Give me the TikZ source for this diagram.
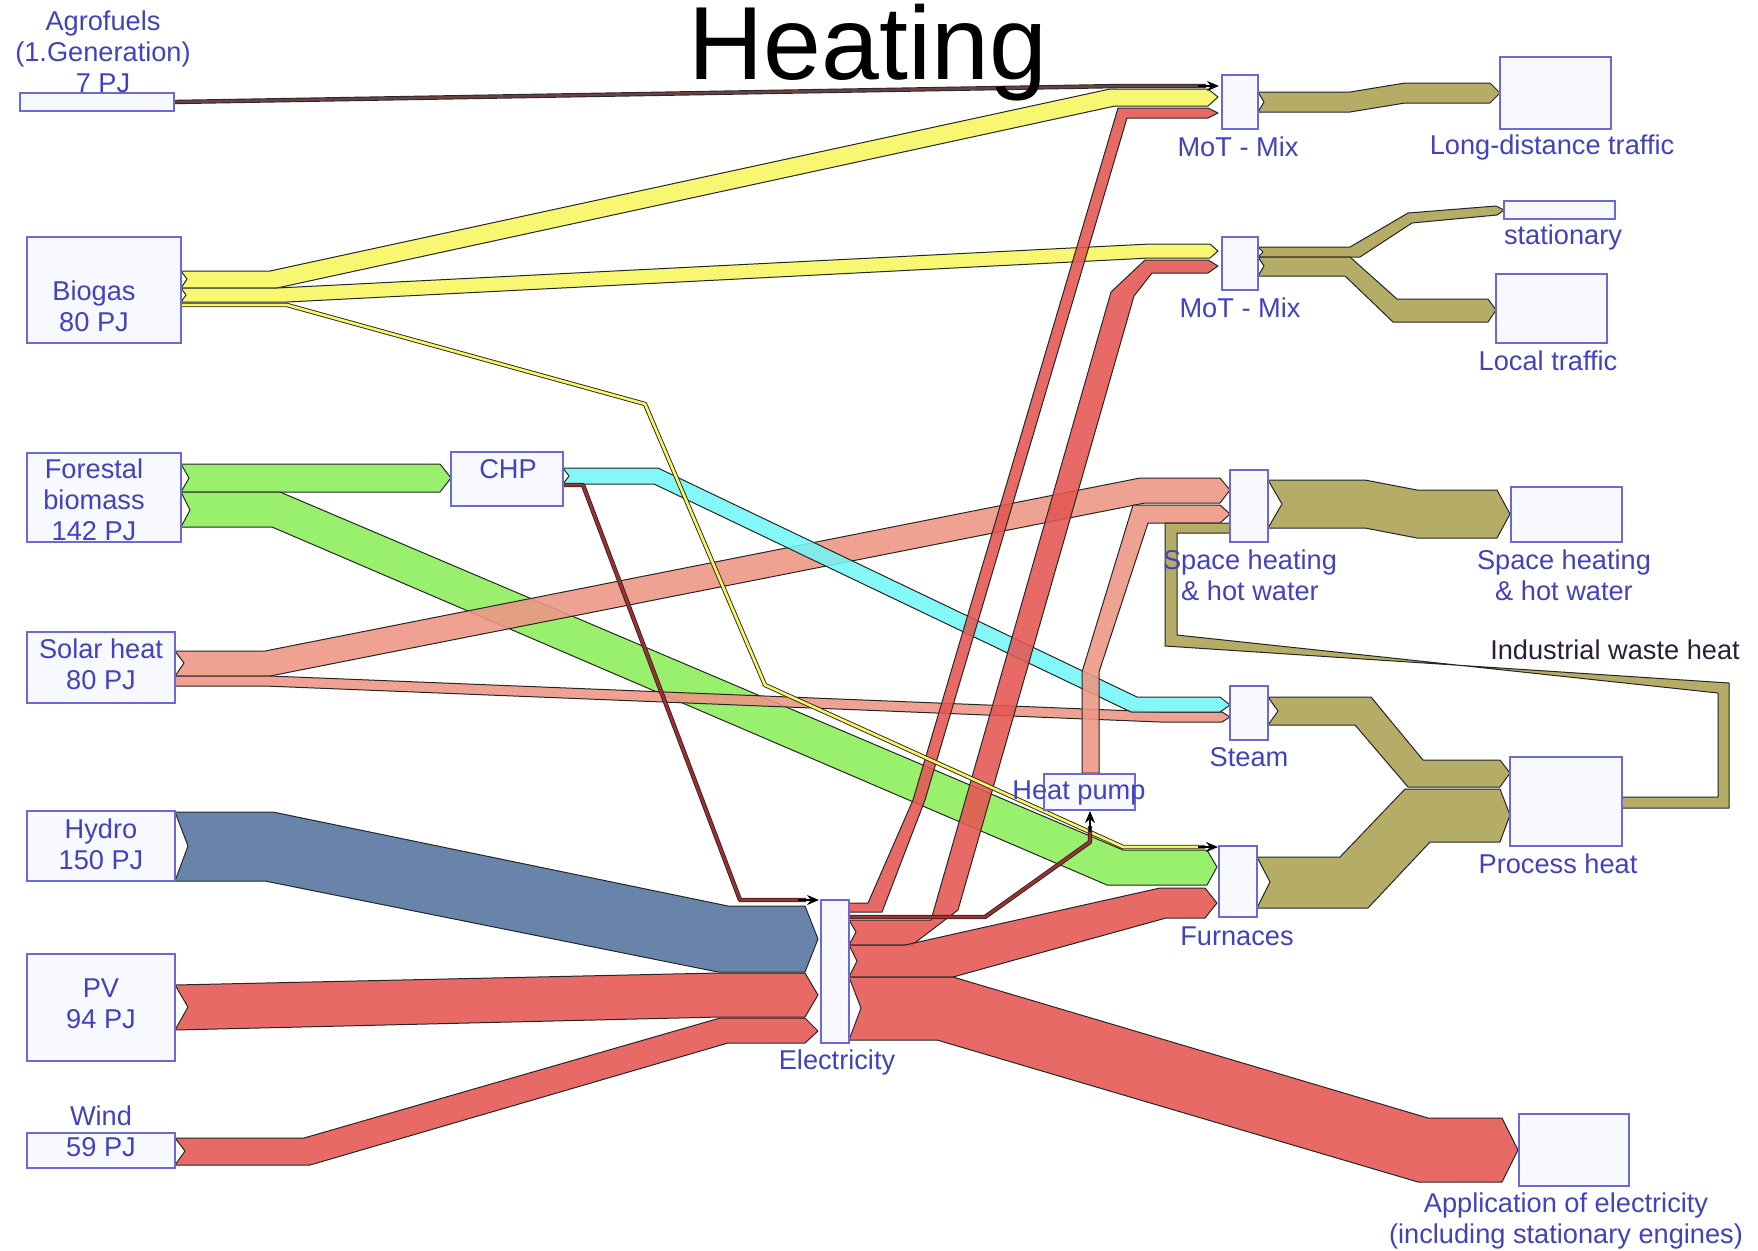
\documentclass[tikz,border=0pt]{standalone}
\usepackage{fontspec}
\setmainfont{Liberation Sans}
\usetikzlibrary{arrows.meta,fit}
\definecolor{yellowF}{RGB}{248,246,95}
\definecolor{greenF}{RGB}{138,238,88}
\definecolor{salmonF}{RGB}{238,150,132}
\definecolor{redF}{RGB}{228,86,82}
\definecolor{blueF}{RGB}{84,116,160}
\definecolor{cyanF}{RGB}{115,246,246}
\definecolor{oliveF}{RGB}{170,161,82}
\definecolor{darkredF}{RGB}{165,45,45}
\definecolor{agroF}{RGB}{105,65,65}
\definecolor{boxf}{RGB}{248,248,255}
\definecolor{boxd}{RGB}{105,105,215}
\definecolor{labc}{RGB}{66,66,190}
\definecolor{darklab}{RGB}{45,30,55}
\begin{document}
\begin{tikzpicture}[x=0.5pt,y=-0.5pt,
  band/.style={draw=black!85, line width=0.5pt, line join=round, fill opacity=0.88},
  box/.style={draw=boxd, fill=boxf, line width=1pt, inner sep=0pt},
  lbl/.style={text=labc, font=\fontsize{13.6}{15.5}\selectfont, align=center, inner sep=0pt},
  thinflow/.style={line width=0.45pt, draw=black!85, line join=round, double distance=1.3pt},
  tip/.style={-{Stealth[length=6pt,width=5pt]}, black, line width=0.8pt}]
\fill[white] (0,0) rectangle (1758,1250);
\useasboundingbox (0,0) rectangle (1758,1250);

% ---- inputs to electricity
\filldraw[band, fill=blueF] (175,812) -- (273,812) -- (728,906) -- (805,906) -- (818,939) -- (805,972) -- (718,972) -- (265,881) -- (175,881) -- (188,846) -- cycle;
\filldraw[band, fill=redF] (175,985) -- (718,973) -- (805,973) -- (818,995) -- (805,1017) -- (720,1017) -- (175,1030) -- (188,1007) -- cycle;
\filldraw[band, fill=redF] (175,1138) -- (304,1138) -- (720,1018) -- (805,1018) -- (818,1031) -- (805,1043) -- (728,1043) -- (310,1165) -- (175,1165) -- (185,1151) -- cycle;

% ---- biogas
\filldraw[band, fill=yellowF] (181,271) -- (270,271) -- (1110,89) -- (1208,89) -- (1218,97) -- (1208,106) -- (1115,106) -- (277,288) -- (181,288) -- (187,279) -- cycle;
\filldraw[band, fill=yellowF] (181,288) -- (277,288) -- (1150,244) -- (1210,244) -- (1218,251) -- (1210,258) -- (1150,258) -- (287,302) -- (181,302) -- (186,295) -- cycle;

% ---- forestal biomass
\filldraw[band, fill=greenF] (181,464) -- (440,464) -- (451,478) -- (440,492) -- (181,492) -- (189,478) -- cycle;
\filldraw[band, fill=greenF] (181,492) -- (280,492) -- (1123,850) -- (1207,850) -- (1217,867) -- (1207,885) -- (1107,885) -- (272,527) -- (181,527) -- (190,510) -- cycle;

% ---- solar heat
\filldraw[band, fill=salmonF] (175,651) -- (265,651) -- (1140,478) -- (1220,478) -- (1230,490) -- (1220,503) -- (1145,503) -- (270,676) -- (175,676) -- (184,663) -- cycle;
\filldraw[band, fill=salmonF] (175,676) -- (270,676) -- (1160,712) -- (1222,712) -- (1230,717) -- (1222,722) -- (1160,722) -- (265,686) -- (175,686) -- cycle;

% ---- CHP heat to steam
\filldraw[band, fill=cyanF] (563,468) -- (658,468) -- (1137,697) -- (1220,697) -- (1230,705) -- (1220,712) -- (1131,712) -- (654,484) -- (563,484) -- (569,476) -- cycle;

% ---- heat pump to space heating
\filldraw[band, fill=salmonF] (1082,773) -- (1082,672) -- (1133,505) -- (1220,505) -- (1230,514) -- (1220,523) -- (1148,523) -- (1099,672) -- (1099,773) -- cycle;

% ---- electricity outputs
\filldraw[band, fill=redF] (849,903) -- (868,903) -- (913,800) -- (1118,108) -- (1208,108) -- (1218,113) -- (1208,118) -- (1127,118) -- (925,800) -- (882,912) -- (849,912) -- cycle;
\filldraw[band, fill=redF] (849,920) -- (931,920) -- (1111,292) -- (1145,260) -- (1208,260) -- (1218,266) -- (1208,273) -- (1152,273) -- (1134,296) -- (958,910) -- (912,945) -- (849,945) -- (856,932) -- cycle;
\filldraw[band, fill=redF] (849,945) -- (905,945) -- (1160,888) -- (1205,888) -- (1217,903) -- (1205,918) -- (1166,918) -- (953,977) -- (849,977) -- (857,961) -- cycle;
\filldraw[band, fill=redF] (849,977) -- (953,977) -- (1428,1118) -- (1502,1118) -- (1518,1150) -- (1502,1182) -- (1418,1182) -- (937,1040) -- (849,1040) -- (861,1008) -- cycle;

% ---- olive outputs
\filldraw[band, fill=oliveF] (1258,92) -- (1350,92) -- (1405,83) -- (1490,83) -- (1500,93) -- (1490,103) -- (1405,103) -- (1350,112) -- (1258,112) -- (1264,102) -- cycle;
\filldraw[band, fill=oliveF] (1258,247) -- (1350,247) -- (1408,213) -- (1496,206) -- (1504,210) -- (1497,215) -- (1412,223) -- (1360,257) -- (1258,257) -- (1263,252) -- cycle;
\filldraw[band, fill=oliveF] (1258,257) -- (1350,257) -- (1397,299) -- (1488,299) -- (1496,310) -- (1488,322) -- (1393,322) -- (1345,276) -- (1258,276) -- (1264,266) -- cycle;
\filldraw[band, fill=oliveF] (1268,480) -- (1365,480) -- (1417,490) -- (1497,490) -- (1510,514) -- (1497,538) -- (1417,538) -- (1365,528) -- (1268,528) -- (1282,504) -- cycle;
\filldraw[band, fill=oliveF] (1268,697) -- (1371,697) -- (1423,760) -- (1500,760) -- (1510,773) -- (1500,787) -- (1408,787) -- (1355,725) -- (1268,725) -- (1278,711) -- cycle;
\filldraw[band, fill=oliveF] (1257,857) -- (1340,857) -- (1405,789) -- (1500,789) -- (1510,815) -- (1500,842) -- (1430,842) -- (1368,908) -- (1257,908) -- (1270,882) -- cycle;
\filldraw[band, fill=oliveF] (1622,797) -- (1718,797) -- (1718,693) -- (1177,635) -- (1177,533) -- (1230,533) -- (1230,523) -- (1165,523) -- (1165,646) -- (1729,683) -- (1729,808) -- (1622,808) -- cycle;

% ---- thin flows
\draw[thinflow, double=agroF] (174,102) -- (1120,86) -- (1206,86);
\draw[tip] (1198,86) -- (1219,86);
\draw[thinflow, double=yellowF] (181,305) -- (287,305) -- (645,404) -- (765,685) -- (1123,847) -- (1205,847);
\draw[tip] (1198,847) -- (1218,847);
\draw[thinflow, double=darkredF] (563,485) -- (583,485) -- (740,900) -- (806,900);
\draw[tip] (798,900) -- (819,900);
\draw[thinflow, double=darkredF] (849,917) -- (985,917) -- (1090,842) -- (1090,826);
\draw[tip] (1090,832) -- (1090,811);

% ---- boxes
\node[box, fit={(20,93) (174,111)}] (agro) {};
\node[box, fit={(27,237) (181,343)}] (biogas) {};
\node[box, fit={(27,453) (181,542)}] (forest) {};
\node[box, fit={(27,632) (175,703)}] (solar) {};
\node[box, fit={(27,811) (175,881)}] (hydro) {};
\node[box, fit={(27,954) (175,1061)}] (pv) {};
\node[box, fit={(27,1133) (175,1168)}] (wind) {};
\node[box, fit={(451,452) (563,506)}] (chp) {};
\node[box, fit={(1222,75) (1258,129)}] (mot1) {};
\node[box, fit={(1222,237) (1258,290)}] (mot2) {};
\node[box, fit={(1500,57) (1611,129)}] (ldt) {};
\node[box, fit={(1504,201) (1615,219)}] (stat) {};
\node[box, fit={(1496,274) (1607,343)}] (local) {};
\node[box, fit={(1230,470) (1268,542)}] (shmix) {};
\node[box, fit={(1511,487) (1622,542)}] (shfin) {};
\node[box, fit={(1230,686) (1268,740)}] (steam) {};
\node[box, fit={(1510,757) (1622,846)}] (proc) {};
\node[box, fit={(1044,774) (1135,810)}] (hp) {};
\node[box, fit={(1219,846) (1257,917)}] (furn) {};
\node[box, fit={(821,900) (849,1043)}] (elec) {};
\node[box, fit={(1519,1114) (1629,1186)}] (appl) {};

% ---- labels
\node[lbl] (tagro) at (103,52) {Agrofuels\\(1.Generation)\\7 PJ};
\node[lbl] (tbiogas) at (94,306) {Biogas\\80 PJ};
\node[lbl] (tforest) at (94,500) {Forestal\\biomass\\142 PJ};
\node[lbl] (tsolar) at (101,664) {Solar heat\\80 PJ};
\node[lbl] (thydro) at (101,844) {Hydro\\150 PJ};
\node[lbl] (tpv) at (101,1004) {PV\\94 PJ};
\node[lbl] (twind) at (101,1131) {Wind\\59 PJ};
\node[lbl] (tchp) at (508,469) {CHP};
\node[lbl] (tmot1) at (1238,147) {MoT - Mix};
\node[lbl] (tmot2) at (1240,308) {MoT - Mix};
\node[lbl] (tldt) at (1552,147) {Long-distance traffic};
\node[lbl] (tstat) at (1563,237) {stationary};
\node[lbl] (tlocal) at (1548,361) {Local traffic};
\node[lbl] (tshmix) at (1250,575) {Space heating\\\& hot water};
\node[lbl] (tshfin) at (1564,575) {Space heating\\\& hot water};
\node[lbl] (tsteam) at (1249,757) {Steam};
\node[lbl] (tproc) at (1558,864) {Process heat};
\node[lbl] (thp) at (1079,793) {Heat pump};
\node[lbl] (tfurn) at (1237,936) {Furnaces};
\node[lbl] (telec) at (837,1062) {Electricity};
\node[lbl] (tappl) at (1566,1221) {Application of electricity\\(including stationary engines)};
\node[lbl, text=darklab] (tind) at (1615,650) {Industrial waste heat};

\node[font=\fontsize{52}{60}\selectfont, anchor=base, inner sep=0pt, text height=36pt] (title) at (868,79) {Heating};
\end{tikzpicture}
\end{document}
